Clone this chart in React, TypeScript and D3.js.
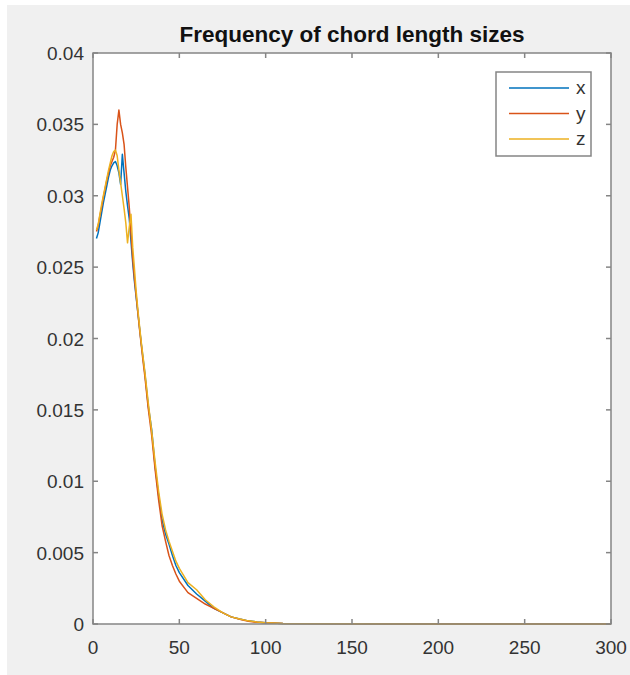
import React from 'react';
import * as d3 from 'd3';

// chord length (x) and the frequency for each direction
const chordLength = [
  2, 3, 4, 5, 6, 7, 8, 9, 10, 11, 12, 13, 14, 15, 16, 17, 18, 19, 20, 21, 22, 23, 24, 25, 26, 27, 28, 29, 30,
  32, 34, 36, 38, 40, 42, 44, 46, 48, 50, 55, 60, 65, 70, 75, 80, 85, 90, 95, 100, 110, 150, 200, 250, 300,
];
const freqX = [
  0.0270, 0.0274, 0.0281, 0.0288, 0.0295, 0.0301, 0.0307, 0.0313, 0.0318, 0.0321, 0.0323, 0.0324, 0.0321, 0.0316,
  0.0308, 0.0329, 0.0316, 0.0303, 0.0293, 0.0284, 0.0268, 0.0253, 0.0240, 0.0229, 0.0218, 0.0207, 0.0196, 0.0186,
  0.0176, 0.0153, 0.0136, 0.0110, 0.0090, 0.0073, 0.0063, 0.0056, 0.0048, 0.0041, 0.0036, 0.0027, 0.0021, 0.0016,
  0.0011, 0.0008, 0.0005, 0.00035, 0.00022, 0.00014, 0.00008, 0.00003, 0.00001, 0, 0, 0,
];
const freqY = [
  0.0275, 0.0279, 0.0286, 0.0292, 0.0299, 0.0305, 0.0311, 0.0316, 0.0321, 0.0324, 0.0327, 0.0332, 0.0350, 0.0360,
  0.0350, 0.0344, 0.0336, 0.0320, 0.0306, 0.0292, 0.0274, 0.0256, 0.0242, 0.0230, 0.0218, 0.0206, 0.0195, 0.0184,
  0.0174, 0.0151, 0.0132, 0.0108, 0.0087, 0.0069, 0.0058, 0.0048, 0.0041, 0.0035, 0.0030, 0.0022, 0.0018, 0.0014,
  0.0011, 0.0008, 0.0005, 0.00033, 0.0002, 0.00012, 0.00008, 0.00003, 0.00001, 0, 0, 0,
];
const freqZ = [
  0.0276, 0.0280, 0.0287, 0.0294, 0.0300, 0.0306, 0.0312, 0.0318, 0.0323, 0.0328, 0.0331, 0.0332, 0.0328, 0.0318,
  0.0309, 0.0300, 0.0291, 0.0281, 0.0267, 0.0278, 0.0287, 0.0264, 0.0249, 0.0233, 0.0220, 0.0208, 0.0197, 0.0187,
  0.0177, 0.0155, 0.0135, 0.0113, 0.0093, 0.0077, 0.0066, 0.0058, 0.0051, 0.0044, 0.0039, 0.0029, 0.0024, 0.0017,
  0.0012, 0.0008, 0.0005, 0.00035, 0.00022, 0.00014, 0.00008, 0.00003, 0.00001, 0, 0, 0,
];

const seriesNames = ['x', 'y', 'z'];
const seriesColors = ['#0072bd', '#d95319', '#edb120'];
const xTicks = [0, 50, 100, 150, 200, 250, 300];
const yTicks = [0, 0.005, 0.01, 0.015, 0.02, 0.025, 0.03, 0.035, 0.04];

const W = 630;
const H = 675;
const left = 93;
const right = 611;
const top = 53;
const bottom = 624;
const axisColor = '#858585';
const textColor = '#333333';
const font = '"Liberation Sans", Arial, sans-serif';

export default function App() {
  const x = d3.scaleLinear().domain([0, 300]).range([left, right]);
  const y = d3.scaleLinear().domain([0, 0.04]).range([bottom, top]);
  const line = d3.line<number>()
    .x((d, i) => x(chordLength[i]))
    .y((d) => y(d));

  const series = [freqX, freqY, freqZ];
  const tickLen = 5;

  return (
    <svg width={W} height={H} style={{ position: 'absolute', left: 0, top: 0 }}>
      <rect x={7} y={5} width={W - 7} height={H - 5} fill="#f0f0f0" />
      <rect x={left} y={top} width={right - left} height={bottom - top} fill="#ffffff" />

      {series.map((s, i) => (
        <path key={seriesNames[i]} d={line(s) || ''} fill="none" stroke={seriesColors[i]} strokeWidth={1.5} strokeLinejoin="round" />
      ))}

      <rect x={left} y={top} width={right - left} height={bottom - top} fill="none" stroke={axisColor} strokeWidth={1.5} />

      {xTicks.map((t) => (
        <g key={'x' + t}>
          <line x1={x(t)} x2={x(t)} y1={bottom} y2={bottom - tickLen} stroke={axisColor} strokeWidth={1.5} />
          <line x1={x(t)} x2={x(t)} y1={top} y2={top + tickLen} stroke={axisColor} strokeWidth={1.5} />
          <text x={x(t)} y={bottom + 30} textAnchor="middle" fontFamily={font} fontSize={19} fill={textColor}>{t}</text>
        </g>
      ))}

      {yTicks.map((t) => (
        <g key={'y' + t}>
          <line x1={left} x2={left + tickLen} y1={y(t)} y2={y(t)} stroke={axisColor} strokeWidth={1.5} />
          <line x1={right} x2={right - tickLen} y1={y(t)} y2={y(t)} stroke={axisColor} strokeWidth={1.5} />
          <text x={84} y={y(t) + 7} textAnchor="end" fontFamily={font} fontSize={19} fill={textColor}>{t}</text>
        </g>
      ))}

      <text x={(left + right) / 2} y={42} textAnchor="middle" fontFamily={font} fontSize={22.5} fontWeight="bold" fill="#111111">
        Frequency of chord length sizes
      </text>

      <g>
        <rect x={496} y={72} width={95} height={84} fill="#ffffff" stroke={axisColor} strokeWidth={1.5} />
        {seriesNames.map((n, i) => (
          <g key={n}>
            <line x1={509} x2={569} y1={88 + i * 25.5} y2={88 + i * 25.5} stroke={seriesColors[i]} strokeWidth={1.5} />
            <text x={576} y={88 + i * 25.5 + 6} fontFamily={font} fontSize={19} fill={textColor}>{n}</text>
          </g>
        ))}
      </g>
    </svg>
  );
}
